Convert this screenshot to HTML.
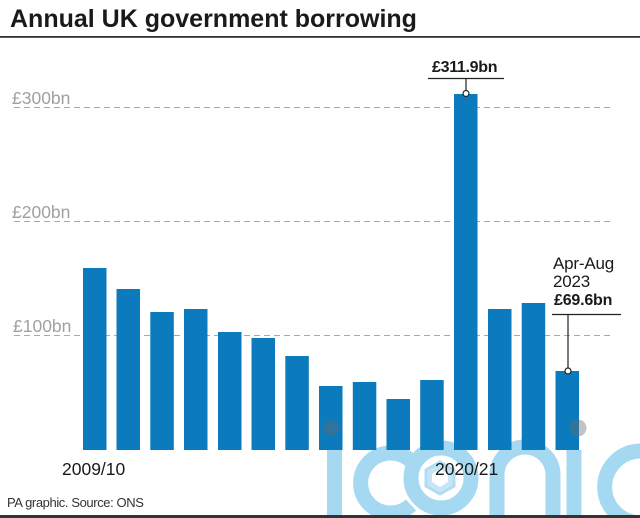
<!DOCTYPE html>
<html><head><meta charset="utf-8"><style>
html,body{margin:0;padding:0;background:#fff;}
svg{display:block;}
text{font-family:"Liberation Sans",Arial,sans-serif;}
</style></head><body>
<svg width="640" height="518" viewBox="0 0 640 518" xmlns="http://www.w3.org/2000/svg">
<rect width="640" height="518" fill="#fff"/>
<text x="10" y="27" font-size="25" font-weight="bold" fill="#1a1a1a">Annual UK government borrowing</text>
<rect x="0" y="36" width="640" height="1.8" fill="#333"/>

<!-- watermark -->
<g fill="none" stroke="#a5d9f1" stroke-width="15">
  <line x1="334.5" y1="450" x2="334.5" y2="518"/>
  <path d="M 411 461 A 30 30 0 1 0 411 505"/>
  <circle cx="441" cy="478" r="30"/>
  <path d="M 497 518 V 475 A 28 28 0 0 1 553 475 V 518"/>
  <line x1="574" y1="450" x2="574" y2="518"/>
  <path d="M 662 458 A 36 36 0 1 0 662 516"/>
</g>
<polygon points="440,462 454,470 454,486 440,494 426,486 426,470" fill="#c5e6f6" stroke="#b3dcf0" stroke-width="3"/>
<polygon points="440,469 448,474 448,482 440,487 432,482 432,474" fill="#fff"/>

<!-- gridlines -->
<g stroke="#aaa" stroke-width="1" stroke-dasharray="6 4">
  <line x1="14" y1="107.5" x2="613" y2="107.5"/>
  <line x1="14" y1="221.5" x2="613" y2="221.5"/>
  <line x1="14" y1="335.5" x2="613" y2="335.5"/>
</g>
<g font-size="17.5" fill="#a0a0a0">
  <text x="12" y="104">£300bn</text>
  <text x="12" y="218">£200bn</text>
  <text x="13" y="332">£100bn</text>
</g>

<!-- bars -->
<g fill="#0b7bbd">
  <rect x="83" y="268" width="23.5" height="182"/>
  <rect x="116.5" y="289" width="23.5" height="161"/>
  <rect x="150.3" y="312" width="23.5" height="138"/>
  <rect x="184" y="309" width="23.5" height="141"/>
  <rect x="218" y="332" width="23.5" height="118"/>
  <rect x="251.5" y="338" width="23.5" height="112"/>
  <rect x="285.3" y="356" width="23.5" height="94"/>
  <rect x="319" y="386" width="23.5" height="64"/>
  <rect x="352.8" y="382" width="23.5" height="68"/>
  <rect x="386.5" y="399" width="23.5" height="51"/>
  <rect x="420.2" y="380" width="23.5" height="70"/>
  <rect x="454" y="94" width="23.5" height="356"/>
  <rect x="488" y="309" width="23.5" height="141"/>
  <rect x="521.7" y="303" width="23.5" height="147"/>
  <rect x="555.5" y="371" width="23.5" height="79"/>
</g>

<!-- watermark dots -->
<circle cx="331" cy="428" r="8" fill="#6a6a6a" fill-opacity="0.4"/>
<circle cx="578" cy="428" r="8.5" fill="#6a6a6a" fill-opacity="0.4"/>

<!-- annotations -->
<text x="432" y="72" font-size="16" font-weight="bold" fill="#1a1a1a" letter-spacing="-0.3">£311.9bn</text>
<line x1="428" y1="78.5" x2="504" y2="78.5" stroke="#222" stroke-width="1.2"/>
<line x1="466" y1="78.5" x2="466" y2="91" stroke="#222" stroke-width="1.2"/>
<circle cx="466" cy="93.5" r="3" fill="#fff" stroke="#222" stroke-width="1.2"/>

<text x="553" y="269" font-size="17" fill="#1a1a1a" letter-spacing="-0.2">Apr-Aug</text>
<text x="553" y="287" font-size="17" fill="#1a1a1a" letter-spacing="-0.2">2023</text>
<text x="554" y="305" font-size="16" font-weight="bold" fill="#1a1a1a" letter-spacing="-0.2">£69.6bn</text>
<line x1="552" y1="314.5" x2="621" y2="314.5" stroke="#222" stroke-width="1.2"/>
<line x1="568" y1="314.5" x2="568" y2="368.5" stroke="#222" stroke-width="1.2"/>
<circle cx="568" cy="371" r="3" fill="#fff" stroke="#222" stroke-width="1.2"/>

<!-- x labels -->
<text x="62" y="475" font-size="17.5" fill="#1a1a1a">2009/10</text>
<text x="435" y="475" font-size="17.5" fill="#1a1a1a">2020/21</text>

<text x="7" y="507" font-size="13" fill="#333" letter-spacing="-0.4">PA graphic. Source: ONS</text>
<rect x="0" y="515" width="640" height="3" fill="#333"/>
</svg>
</body></html>
